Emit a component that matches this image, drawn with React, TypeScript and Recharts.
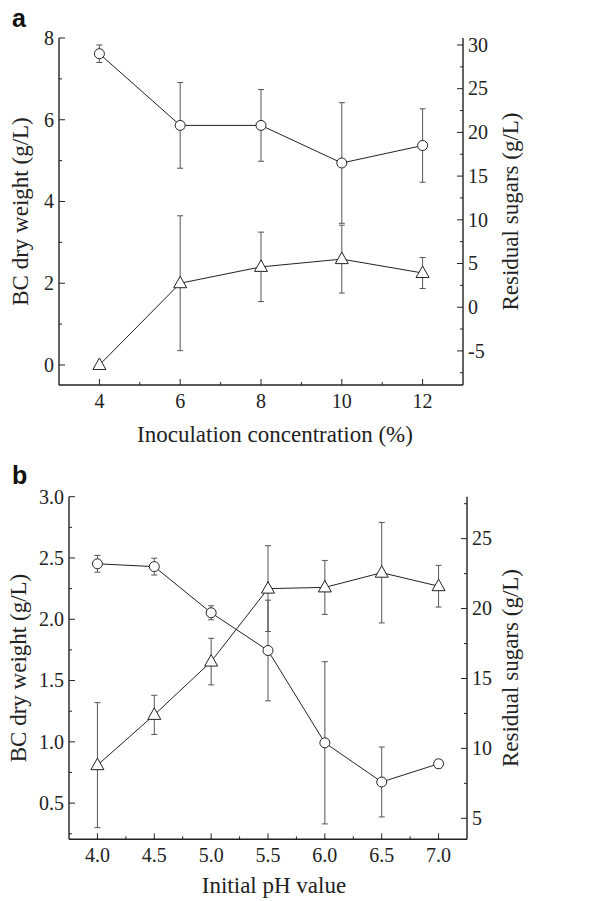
import { LineChart, Line, XAxis, YAxis, ErrorBar } from "recharts";

// panel a: inoculation concentration
const INOC = [4, 6, 8, 10, 12];
const INOC_BC = [0.0, 2.0, 2.4, 2.59, 2.25];
const INOC_BC_ERR = [0, 1.65, 0.85, 0.83, 0.38];
const INOC_SUGAR = [29.0, 20.8, 20.8, 16.5, 18.5];
const INOC_SUGAR_ERR = [1.0, 4.9, 4.1, 6.9, 4.2];

const INOC_TICKS = [4, 5, 6, 7, 8, 9, 10, 11, 12];
const INOC_BC_TICKS = [0, 1, 2, 3, 4, 5, 6, 7, 8];
const INOC_SUGAR_TICKS = [-7.5, -5, -2.5, 0, 2.5, 5, 7.5, 10, 12.5, 15, 17.5, 20, 22.5, 25, 27.5, 30];

// panel b: initial pH
const PH = [4.0, 4.5, 5.0, 5.5, 6.0, 6.5, 7.0];
const PH_BC = [0.81, 1.22, 1.655, 2.25, 2.26, 2.38, 2.27];
const PH_BC_ERR = [0.51, 0.16, 0.19, 0.35, 0.22, 0.41, 0.17];
const PH_SUGAR = [23.2, 23.0, 19.7, 17.0, 10.4, 7.6, 8.9];
const PH_SUGAR_ERR = [0.6, 0.6, 0.5, 3.6, 5.8, 2.5, 0.3];

const PH_TICKS = [4.0, 4.25, 4.5, 4.75, 5.0, 5.25, 5.5, 5.75, 6.0, 6.25, 6.5, 6.75, 7.0];
const PH_BC_TICKS = [0.25, 0.5, 0.75, 1.0, 1.25, 1.5, 1.75, 2.0, 2.25, 2.5, 2.75, 3.0];
const PH_SUGAR_TICKS = [5, 7.5, 10, 12.5, 15, 17.5, 20, 22.5, 25, 27.5];

const FONT = "'Liberation Serif', 'Times New Roman', serif";
const INK = "#222";
const ERR = "#555";

const dataA = INOC.map((x, i) => ({
  x, bc: INOC_BC[i], bcErr: INOC_BC_ERR[i], sugar: INOC_SUGAR[i], sugarErr: INOC_SUGAR_ERR[i],
}));
const dataB = PH.map((x, i) => ({
  x, bc: PH_BC[i], bcErr: PH_BC_ERR[i], sugar: PH_SUGAR[i], sugarErr: PH_SUGAR_ERR[i],
}));

const isHalf = (v: number) => Math.abs(v * 2 - Math.round(v * 2)) < 1e-6;
const isEven = (v: number) => v % 2 === 0;
const isFive = (v: number) => Math.abs(v % 5) < 1e-6;

// ticks point inward, minor ones shorter, label only on major
function makeTick(side: "left" | "right" | "bottom", major: (v: number) => boolean, fmt: (v: number) => string) {
  // eslint-disable-next-line @typescript-eslint/no-explicit-any
  return (props: any) => {
    const { x, y, payload } = props;
    const v = payload.value;
    const m = major(v);
    const len = m ? 6 : 3;
    const textStyle = { fontFamily: FONT, fontSize: 20, fill: INK };
    if (side === "left") {
      return (
        <g key={`l-${v}`}>
          <line x1={x} x2={x + len} y1={y} y2={y} stroke={INK} />
          {m && <text x={x - 5} y={y} dy="0.34em" textAnchor="end" style={textStyle}>{fmt(v)}</text>}
        </g>
      );
    }
    if (side === "right") {
      return (
        <g key={`r-${v}`}>
          <line x1={x} x2={x - len} y1={y} y2={y} stroke={INK} />
          {m && <text x={x + 5} y={y} dy="0.34em" textAnchor="start" style={textStyle}>{fmt(v)}</text>}
        </g>
      );
    }
    return (
      <g key={`b-${v}`}>
        <line x1={x} x2={x} y1={y} y2={y - len} stroke={INK} />
        {m && <text x={x} y={y + 23} textAnchor="middle" style={textStyle}>{fmt(v)}</text>}
      </g>
    );
  };
}

// eslint-disable-next-line @typescript-eslint/no-explicit-any
function triangleDot(props: any) {
  const { cx, cy, index } = props;
  if (cx == null || cy == null) return <g key={`t-${index}`} />;
  return (
    <polygon
      key={`t-${index}`}
      points={`${cx},${cy - 7} ${cx - 6.5},${cy + 4.5} ${cx + 6.5},${cy + 4.5}`}
      fill="#fff"
      stroke={INK}
      strokeWidth={1}
    />
  );
}

const titleStyle = { fontFamily: FONT, fontSize: 23, fill: INK, textAnchor: "middle" as const };
const circleDot = { r: 5, fill: "#fff", stroke: INK, strokeWidth: 1 };
const axisLine = { stroke: INK, strokeWidth: 1.4 };

function PanelA() {
  return (
    <LineChart width={608} height={450} data={dataA} margin={{ top: 38, right: 0, bottom: 0, left: 0 }}>
      <XAxis
        type="number" dataKey="x" domain={[3, 13]} ticks={INOC_TICKS} interval={0}
        allowDataOverflow height={65} tickSize={0} tickMargin={0} tickLine={false}
        axisLine={axisLine}
        tick={makeTick("bottom", isEven, (v) => String(v))}
        label={{ value: "Inoculation concentration (%)", position: "insideTop", offset: 41, dx: 14, style: titleStyle }}
      />
      <YAxis
        yAxisId="bc" orientation="left" type="number" domain={[-0.49, 8]} ticks={INOC_BC_TICKS}
        interval={0} allowDataOverflow width={59} tickSize={0} tickMargin={0} tickLine={false}
        axisLine={axisLine}
        tick={makeTick("left", isEven, (v) => String(v))}
        label={{ value: "BC dry weight (g/L)", angle: -90, position: "insideLeft", offset: 20, style: titleStyle }}
      />
      <YAxis
        yAxisId="sugar" orientation="right" type="number" domain={[-8.9, 30.8]} ticks={INOC_SUGAR_TICKS}
        interval={0} allowDataOverflow width={145} tickSize={0} tickMargin={0} tickLine={false}
        axisLine={axisLine}
        tick={makeTick("right", isFive, (v) => String(v))}
        label={{ value: "Residual sugars (g/L)", angle: -90, position: "insideLeft", offset: 47, style: titleStyle }}
      />
      <Line
        yAxisId="sugar" dataKey="sugar" type="linear" stroke={INK} strokeWidth={1}
        dot={circleDot} activeDot={false} isAnimationActive={false}
      >
        <ErrorBar dataKey="sugarErr" direction="y" width={3} stroke={ERR} strokeWidth={1} />
      </Line>
      <Line
        yAxisId="bc" dataKey="bc" type="linear" stroke={INK} strokeWidth={1}
        dot={triangleDot} activeDot={false} isAnimationActive={false}
      >
        <ErrorBar dataKey="bcErr" direction="y" width={3} stroke={ERR} strokeWidth={1} />
      </Line>
    </LineChart>
  );
}

function PanelB() {
  return (
    <LineChart width={608} height={451} data={dataB} margin={{ top: 46.7, right: 0, bottom: 0, left: 0 }}>
      <XAxis
        type="number" dataKey="x" domain={[3.75, 7.25]} ticks={PH_TICKS} interval={0}
        allowDataOverflow height={61.7} tickSize={0} tickMargin={0} tickLine={false}
        axisLine={axisLine}
        tick={makeTick("bottom", isHalf, (v) => v.toFixed(1))}
        label={{ value: "Initial pH value", position: "insideTop", offset: 37, dx: 6, style: titleStyle }}
      />
      <YAxis
        yAxisId="bc" orientation="left" type="number" domain={[0.205, 3.0]} ticks={PH_BC_TICKS}
        interval={0} allowDataOverflow width={69} tickSize={0} tickMargin={0} tickLine={false}
        axisLine={axisLine}
        tick={makeTick("left", isHalf, (v) => v.toFixed(1))}
        label={{ value: "BC dry weight (g/L)", angle: -90, position: "insideLeft", offset: 18, style: titleStyle }}
      />
      <YAxis
        yAxisId="sugar" orientation="right" type="number" domain={[3.5, 28]} ticks={PH_SUGAR_TICKS}
        interval={0} allowDataOverflow width={141} tickSize={0} tickMargin={0} tickLine={false}
        axisLine={axisLine}
        tick={makeTick("right", isFive, (v) => String(v))}
        label={{ value: "Residual sugars (g/L)", angle: -90, position: "insideLeft", offset: 43, style: titleStyle }}
      />
      <Line
        yAxisId="sugar" dataKey="sugar" type="linear" stroke={INK} strokeWidth={1}
        dot={circleDot} activeDot={false} isAnimationActive={false}
      >
        <ErrorBar dataKey="sugarErr" direction="y" width={3} stroke={ERR} strokeWidth={1} />
      </Line>
      <Line
        yAxisId="bc" dataKey="bc" type="linear" stroke={INK} strokeWidth={1}
        dot={triangleDot} activeDot={false} isAnimationActive={false}
      >
        <ErrorBar dataKey="bcErr" direction="y" width={3} stroke={ERR} strokeWidth={1} />
      </Line>
    </LineChart>
  );
}

export default function App() {
  return (
    <div style={{ position: "absolute", left: 0, top: 0, width: 608, height: 901, background: "#fff" }}>
      <PanelA />
      <PanelB />
      <svg width={608} height={901} style={{ position: "absolute", left: 0, top: 0, pointerEvents: "none" }}>
        <text x={12} y={27} style={{ fontFamily: "'Liberation Sans', Arial, sans-serif", fontWeight: 700, fontSize: 25, fill: "#111" }}>a</text>
        <text x={12} y={484} style={{ fontFamily: "'Liberation Sans', Arial, sans-serif", fontWeight: 700, fontSize: 25, fill: "#111" }}>b</text>
      </svg>
    </div>
  );
}
